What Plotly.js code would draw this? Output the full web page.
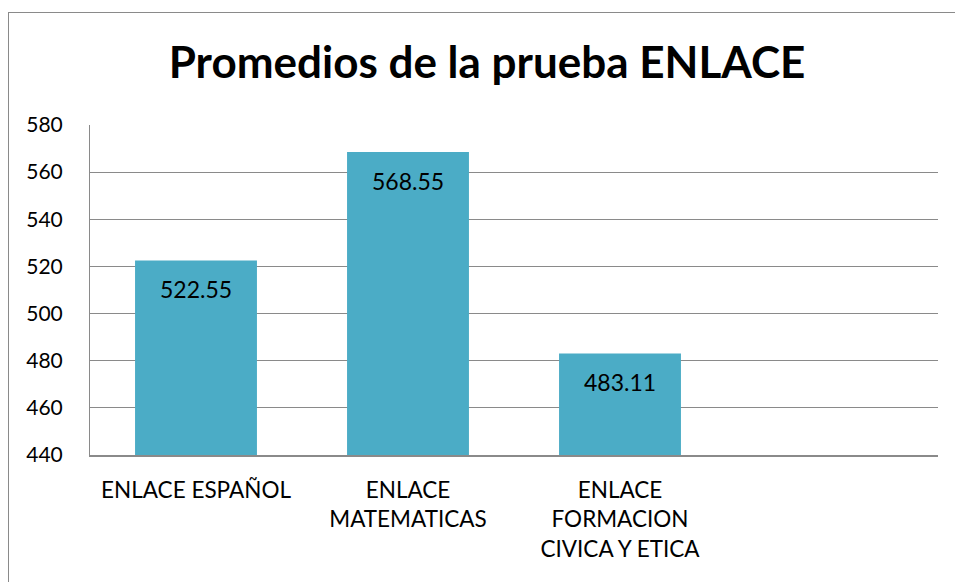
<!DOCTYPE html>
<html>
<head>
<meta charset="utf-8">
<script src="https://cdn.plot.ly/plotly-3.0.1.min.js"></script>
<style>
  html, body { margin: 0; padding: 0; background: #fff; overflow: hidden; }
  #frame { position: absolute; left: 8px; top: 12px; width: 1200px; height: 800px; border: 1px solid #8a8a8a; box-sizing: border-box; }
  #chart { position: absolute; left: 0; top: 0; width: 955px; height: 582px; }
</style>
</head>
<body>
<div id="frame"></div>
<div id="chart"></div>
<script>
  // one blank slot on the right, as in the original sheet
  const categories = ["ENLACE ESPAÑOL", "ENLACE<br>MATEMATICAS", "ENLACE<br>FORMACION<br>CIVICA Y ETICA", " "]
  const values = [522.55, 568.55, 483.11, null]
  const labels = ["522.55", "568.55", "483.11", ""]
  const yTicks = [440, 460, 480, 500, 520, 540, 560, 580]

  const font = "Lato, 'Open Sans', sans-serif"

  const data = [{
    type: "bar",
    x: categories,
    y: values,
    marker: {color: "#4BACC6"},
    hoverinfo: "skip"
  }]

  const annotations = categories.slice(0, 3).map((c, i) => ({
    x: c, y: values[i], xref: "x", yref: "y",
    text: labels[i], showarrow: false, yshift: -29,
    font: {family: font, size: 23, color: "#000"}
  }))

  Plotly.newPlot("chart", data, {
    width: 955, height: 582,
    margin: {l: 90, r: 17, t: 125, b: 127},
    paper_bgcolor: "rgba(0,0,0,0)",
    plot_bgcolor: "rgba(0,0,0,0)",
    title: {text: "<b>Promedios de la prueba ENLACE</b>", x: 0.51, xanchor: "center", y: 0.893, yanchor: "middle",
      font: {family: font, size: 44, color: "#000"}},
    bargap: 0.425,
    showlegend: false,
    xaxis: {
      type: "category", range: [-0.5, 3.5],
      showline: true, linecolor: "#8a8a8a", linewidth: 2,
      ticks: "", tickfont: {family: font, size: 22.5, color: "#000"},
      ticklabelstandoff: 14, showgrid: false
    },
    yaxis: {
      range: [440, 580], tickvals: yTicks, ticktext: yTicks.map(String),
      showline: true, linecolor: "#8a8a8a", linewidth: 1,
      showgrid: true, gridcolor: "#8a8a8a", gridwidth: 1, zeroline: false,
      ticks: "", ticklabelstandoff: 22,
      tickfont: {family: font, size: 21, color: "#000"}
    },
    annotations
  }, {staticPlot: true})
</script>
</body>
</html>
